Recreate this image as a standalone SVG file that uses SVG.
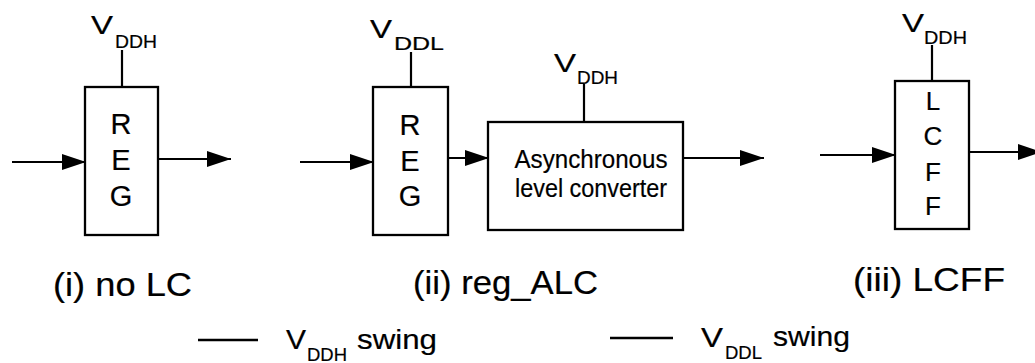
<svg xmlns="http://www.w3.org/2000/svg" width="1035" height="363" viewBox="0 0 1035 363">
<defs>
<style>
.box{fill:#fff;stroke:#000;stroke-width:2.3}
.w{stroke:#000;stroke-width:2.2;fill:none}
.a{stroke:#000;stroke-width:2.2;fill:none;marker-end:url(#ah)}
text{font-family:"Liberation Sans",Arial,Helvetica,sans-serif;fill:#000;stroke:#000;stroke-width:0.2}
.big{font-size:29px;text-anchor:middle}
.v{font-size:26px}
.s{font-size:19px}
.lab{font-size:34px}
.alc{font-size:26px;text-anchor:middle}
</style>
<marker id="ah" markerUnits="userSpaceOnUse" markerWidth="25" markerHeight="17" refX="24" refY="8" orient="auto">
<path d="M0,0 L24,8 L0,16 z" fill="#000"/>
</marker>
</defs>
<rect width="1035" height="363" fill="#fff"/>

<g id="connectors">
<line class="w" x1="122" y1="50" x2="122" y2="87"/>
<line class="a" x1="12" y1="162" x2="86" y2="162"/>
<line class="a" x1="158" y1="159" x2="231" y2="159"/>
<line class="w" x1="411" y1="52" x2="411" y2="87"/>
<line class="w" x1="584" y1="84" x2="584" y2="122"/>
<line class="a" x1="300" y1="162" x2="374" y2="162"/>
<line class="a" x1="448" y1="158" x2="489" y2="158"/>
<line class="a" x1="683" y1="158" x2="764" y2="158"/>
<line class="w" x1="932" y1="45" x2="932" y2="81"/>
<line class="a" x1="820" y1="155" x2="896" y2="155"/>
<line class="a" x1="969" y1="152" x2="1042" y2="152"/>
<line class="w" x1="198" y1="340" x2="258" y2="340" style="stroke-width:2.6"/>
<line class="w" x1="610" y1="338" x2="673" y2="338" style="stroke-width:2.6"/>
</g>

<g id="reg1">
<rect class="box" x="85" y="87" width="73" height="148"/>
<text class="big" x="121" y="134">R</text>
<text class="big" x="121" y="170">E</text>
<text class="big" x="121" y="206">G</text>
<text class="v" x="91" y="34" textLength="22" lengthAdjust="spacingAndGlyphs">V</text>
<text class="s" x="115" y="48" textLength="42" lengthAdjust="spacingAndGlyphs">DDH</text>
</g>

<g id="reg2">
<rect class="box" x="373" y="87" width="75" height="148"/>
<text class="big" x="410" y="135">R</text>
<text class="big" x="410" y="171">E</text>
<text class="big" x="410" y="206">G</text>
<text class="v" x="370" y="38" textLength="22" lengthAdjust="spacingAndGlyphs">V</text>
<text class="s" x="394" y="50" textLength="50" lengthAdjust="spacingAndGlyphs">DDL</text>
</g>

<g id="alc">
<rect class="box" x="488" y="122" width="195" height="108"/>
<text class="alc" x="591" y="168" textLength="153" lengthAdjust="spacingAndGlyphs">Asynchronous</text>
<text class="alc" x="591" y="197" textLength="152" lengthAdjust="spacingAndGlyphs">level converter</text>
<text class="v" x="554" y="72" textLength="22" lengthAdjust="spacingAndGlyphs">V</text>
<text class="s" x="577" y="84" textLength="41" lengthAdjust="spacingAndGlyphs">DDH</text>
</g>

<g id="lcff">
<rect class="box" x="895" y="81" width="74" height="148"/>
<text class="big" x="933" y="110" style="font-size:26px">L</text>
<text class="big" x="933" y="145" style="font-size:26px">C</text>
<text class="big" x="933" y="181" style="font-size:26px">F</text>
<text class="big" x="933" y="215" style="font-size:26px">F</text>
<text class="v" x="902" y="32" textLength="22" lengthAdjust="spacingAndGlyphs">V</text>
<text class="s" x="924" y="44" textLength="43" lengthAdjust="spacingAndGlyphs">DDH</text>
</g>

<g id="captions">
<text class="lab" x="53" y="296" textLength="139" lengthAdjust="spacingAndGlyphs">(i) no LC</text>
<text class="lab" x="413" y="294" textLength="185" lengthAdjust="spacingAndGlyphs">(ii) reg_ALC</text>
<text class="lab" x="853" y="291" textLength="152" lengthAdjust="spacingAndGlyphs">(iii) LCFF</text>
</g>

<g id="legend">
<text x="286" y="349" style="font-size:27px" textLength="20" lengthAdjust="spacingAndGlyphs">V</text>
<text class="s" x="307" y="361" textLength="40" lengthAdjust="spacingAndGlyphs">DDH</text>
<text x="357" y="349" style="font-size:28px" textLength="80" lengthAdjust="spacingAndGlyphs">swing</text>
<text x="701" y="347" style="font-size:27px" textLength="22" lengthAdjust="spacingAndGlyphs">V</text>
<text class="s" x="725" y="359" textLength="37" lengthAdjust="spacingAndGlyphs">DDL</text>
<text x="773" y="346" style="font-size:28px" textLength="77" lengthAdjust="spacingAndGlyphs">swing</text>
</g>
</svg>
